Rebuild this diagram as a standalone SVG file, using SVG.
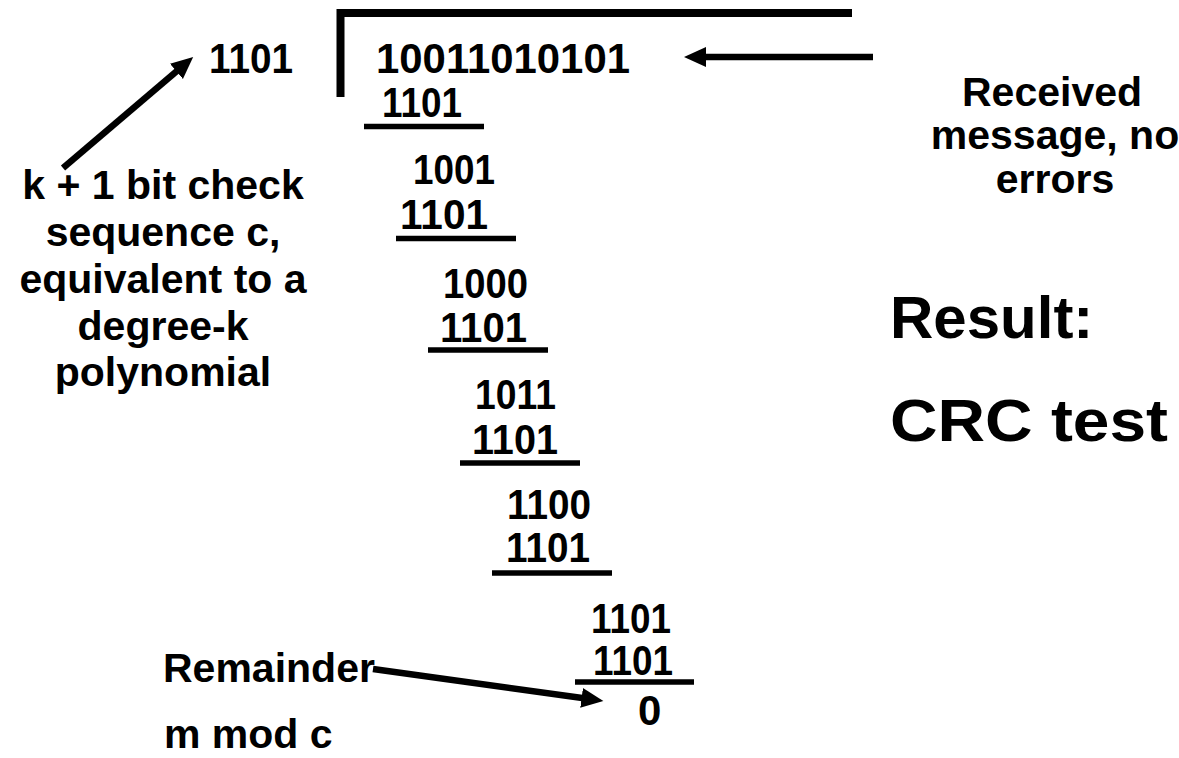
<svg xmlns="http://www.w3.org/2000/svg" width="1179" height="758" viewBox="0 0 1179 758">
<style>
  text { font-family: "Liberation Sans", Arial, sans-serif; font-weight: bold; fill: #000; }
  .lbl { font-size: 41px; text-anchor: middle; }
  .dig { font-size: 42px; }
  .big { font-size: 60px; }
  .ul { stroke: #000; stroke-width: 5.5; fill: none; }
  .arr { stroke: #000; stroke-width: 6.5; fill: none; marker-end: url(#ah); }
</style>
<defs>
  <marker id="ah" markerUnits="userSpaceOnUse" markerWidth="24" markerHeight="22" refX="8" refY="10" orient="auto">
    <path d="M0,0 L22,10 L0,20 Z" fill="#000"/>
  </marker>
</defs>
<rect width="1179" height="758" fill="#fff"/>

<g id="division-bracket">
  <path d="M340.5,97 V13 H852" stroke="#000" stroke-width="8" fill="none" stroke-linejoin="miter"/>
</g>

<g id="divisor">
  <text class="dig" x="209" y="73" textLength="84" lengthAdjust="spacingAndGlyphs">1101</text>
</g>
<g id="dividend">
  <text class="dig" x="376" y="73" textLength="254" lengthAdjust="spacingAndGlyphs">10011010101</text>
</g>

<g id="step1">
  <text class="dig" x="382" y="117" textLength="80" lengthAdjust="spacingAndGlyphs">1101</text>
  <line class="ul" x1="364" y1="126.5" x2="484" y2="126.5"/>
</g>
<g id="step2">
  <text class="dig" x="413" y="184" textLength="82" lengthAdjust="spacingAndGlyphs">1001</text>
  <text class="dig" x="400" y="229" textLength="88" lengthAdjust="spacingAndGlyphs">1101</text>
  <line class="ul" x1="396" y1="238.5" x2="516" y2="238.5"/>
</g>
<g id="step3">
  <text class="dig" x="443" y="298" textLength="85" lengthAdjust="spacingAndGlyphs">1000</text>
  <text class="dig" x="440" y="342" textLength="87" lengthAdjust="spacingAndGlyphs">1101</text>
  <line class="ul" x1="428" y1="350" x2="548" y2="350"/>
</g>
<g id="step4">
  <text class="dig" x="475" y="409" textLength="81" lengthAdjust="spacingAndGlyphs">1011</text>
  <text class="dig" x="472" y="454" textLength="86" lengthAdjust="spacingAndGlyphs">1101</text>
  <line class="ul" x1="460" y1="463" x2="580" y2="463"/>
</g>
<g id="step5">
  <text class="dig" x="507" y="519" textLength="84" lengthAdjust="spacingAndGlyphs">1100</text>
  <text class="dig" x="506" y="562" textLength="84" lengthAdjust="spacingAndGlyphs">1101</text>
  <line class="ul" x1="492" y1="573" x2="612" y2="573"/>
</g>
<g id="step6">
  <text class="dig" x="591" y="633" textLength="80" lengthAdjust="spacingAndGlyphs">1101</text>
  <text class="dig" x="593" y="675" textLength="80" lengthAdjust="spacingAndGlyphs">1101</text>
  <line class="ul" x1="575" y1="682" x2="694" y2="682"/>
</g>
<g id="remainder-value">
  <text class="dig" x="638" y="725">0</text>
</g>

<g id="label-check">
  <text class="lbl" x="163" y="199">k + 1 bit check</text>
  <text class="lbl" x="163" y="246">sequence c,</text>
  <text class="lbl" x="163" y="293">equivalent to a</text>
  <text class="lbl" x="163" y="340">degree-k</text>
  <text class="lbl" x="163" y="386">polynomial</text>
</g>

<g id="label-received">
  <text class="lbl" x="1052" y="106">Received</text>
  <text class="lbl" x="1055" y="149">message, no</text>
  <text class="lbl" x="1055" y="193">errors</text>
</g>

<g id="label-result">
  <text class="big" x="890" y="338">Result:</text>
  <text class="big" x="890" y="441" textLength="278" lengthAdjust="spacingAndGlyphs">CRC test</text>
</g>

<g id="label-remainder">
  <text class="lbl" x="163" y="682" style="text-anchor:start">Remainder</text>
  <text class="lbl" x="164" y="748" style="text-anchor:start">m mod c</text>
</g>

<g id="connectors">
  <line class="arr" x1="63" y1="168" x2="182.5" y2="66.2"/>
  <line class="arr" x1="373" y1="669" x2="589.5" y2="699"/>
  <line class="arr" x1="873" y1="57" x2="698" y2="57"/>
</g>
</svg>
